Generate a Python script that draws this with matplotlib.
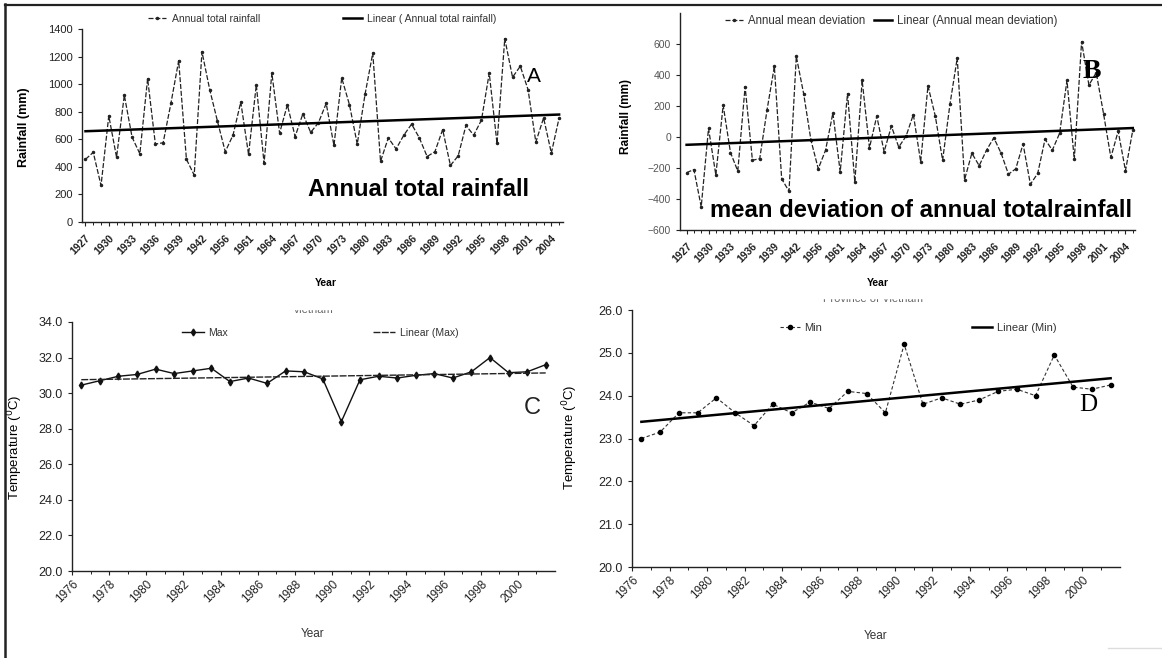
import matplotlib.pyplot as plt
import numpy as np
from matplotlib.lines import Line2D
from matplotlib.patches import Rectangle

plt.rcParams['font.family'] = ['Liberation Sans', 'DejaVu Sans']

W, H = 1162, 658

# ---- data ----
rain_total = [455, 505, 265, 770, 470, 920, 615, 495, 1040, 565,
              575, 860, 1170, 455, 340, 1235, 960, 730, 510, 630,
              870, 490, 995, 425, 1080, 645, 850, 620, 785, 650,
              720, 860, 555, 1045, 850, 565, 925, 1225, 440, 610,
              530, 630, 710, 610, 475, 510, 670, 410, 480, 700,
              630, 740, 1080, 570, 1330, 1050, 1130, 960, 580, 755,
              500, 755]
rain_dev = [-230, -210, -450, 55, -245, 205, -100, -220, 325, -150,
            -140, 175, 455, -270, -350, 520, 280, -20, -205, -85,
            155, -225, 280, -290, 365, -70, 135, -95, 70, -65,
            5, 145, -160, 330, 135, -150, 210, 510, -275, -105,
            -185, -85, -5, -105, -240, -205, -45, -305, -235, -15,
            -85, 25, 365, -145, 615, 335, 415, 150, -132, 38,
            -217, 45]
rain_labels = ['1927', '1930', '1933', '1936', '1939', '1942', '1956', '1961',
               '1964', '1967', '1970', '1973', '1980', '1983', '1986', '1989',
               '1992', '1995', '1998', '2001', '2004']

temp_years = list(range(1976, 2002))
temp_max = [30.45, 30.7, 30.95, 31.05, 31.35, 31.1, 31.25, 31.4, 30.65, 30.85,
            30.55, 31.25, 31.2, 30.8, 28.4, 30.75, 30.95, 30.85, 31.0, 31.1,
            30.85, 31.2, 32.0, 31.15, 31.2, 31.6]
temp_min = [23.0, 23.15, 23.6, 23.6, 23.95, 23.6, 23.3, 23.8, 23.6, 23.85,
            23.7, 24.1, 24.05, 23.6, 25.2, 23.8, 23.95, 23.8, 23.9, 24.1,
            24.15, 24.0, 24.95, 24.2, 24.15, 24.25]
temp_labels = [str(y) for y in temp_years[::2]]


def box(l, t, r, b):
    return [l / W, 1 - b / H, (r - l) / W, (b - t) / H]


def fx(x):
    return x / W


def fy(y):
    return 1 - y / H


def style(ax, size):
    for s in ('top', 'right'):
        ax.spines[s].set_visible(False)
    for s in ('left', 'bottom'):
        ax.spines[s].set_linewidth(1.0)
        ax.spines[s].set_color('#222')
    ax.tick_params(colors='#222', labelsize=size, length=3, width=0.8)
    ax.tick_params(which='minor', length=2.5, width=0.7, colors='#222')


fig = plt.figure(figsize=(W / 100, H / 100), dpi=100)

# ---------------- A : annual total rainfall ----------------
axA = fig.add_axes(box(82, 29, 563, 222))
idx = np.arange(len(rain_total))
axA.plot(idx, rain_total, color='#222', lw=0.9, ls=(0, (4, 1.5)),
         marker='.', ms=3, label='Annual total rainfall')
k, c = np.polyfit(idx, rain_total, 1)
axA.plot(idx, k * idx + c, color='black', lw=1.8,
         label='Linear ( Annual total rainfall)')
axA.set_xlim(-0.45, len(idx) - 0.5)
axA.set_ylim(0, 1400)
axA.set_yticks(range(0, 1401, 200))
axA.set_xticks(idx[::3])
axA.set_xticklabels(rain_labels, rotation=45, ha='right', va='top',
                    rotation_mode='anchor', fontweight='bold')
axA.set_xticks(idx, minor=True)
style(axA, 8)
axA.tick_params(axis='x', labelsize=7.5, pad=5)
axA.set_ylabel('Rainfall (mm)', fontsize=9, fontweight='bold')
axA.yaxis.set_label_coords(fx(30), fy(127), transform=fig.transFigure)
axA.set_xlabel('Year', fontsize=7.5, fontweight='bold')
axA.xaxis.set_label_coords(fx(326), fy(278), transform=fig.transFigure)
axA.legend(loc='center', bbox_to_anchor=(fx(322), fy(19)),
           bbox_transform=fig.transFigure, ncol=2, frameon=False,
           fontsize=7.5, handlelength=1.8, handletextpad=0.5,
           columnspacing=8, borderpad=0, labelcolor='#333')
fig.text(fx(419), fy(190), 'Annual total rainfall', ha='center', va='center',
         fontsize=17, fontweight='bold')
fig.text(fx(534), fy(76), 'A', ha='center', va='center', fontsize=15)

# ---------------- B : mean deviation ----------------
axB = fig.add_axes(box(680, 13, 1135, 230))
idxB = np.arange(len(rain_dev))
axB.plot(idxB, rain_dev, color='#222', lw=0.9, ls=(0, (4, 1.5)),
         marker='.', ms=3, label='Annual mean deviation')
k, c = np.polyfit(idxB, rain_dev, 1)
axB.plot(idxB, k * idxB + c, color='black', lw=1.8,
         label='Linear (Annual mean deviation)')
axB.set_xlim(-0.9, len(idxB) - 0.7)
axB.set_ylim(-600, 800)
axB.set_yticks(range(-600, 601, 200))
axB.set_xticks(idxB[::3])
axB.set_xticklabels(rain_labels, rotation=45, ha='right', va='top',
                    rotation_mode='anchor', fontweight='bold')
axB.set_xticks(idxB, minor=True)
style(axB, 7.5)
axB.tick_params(axis='y', labelcolor='#555')
axB.tick_params(axis='x', labelsize=7.5, pad=5)
axB.set_ylabel('Rainfall (mm)', fontsize=8.5, fontweight='bold')
axB.yaxis.set_label_coords(fx(632), fy(117), transform=fig.transFigure)
axB.set_xlabel('Year', fontsize=7.5, fontweight='bold')
axB.xaxis.set_label_coords(fx(878), fy(278), transform=fig.transFigure)
axB.legend(loc='center', bbox_to_anchor=(fx(891), fy(21)),
           bbox_transform=fig.transFigure, ncol=2, frameon=False,
           fontsize=8.3, handlelength=1.6, handletextpad=0.4,
           columnspacing=0.8, borderpad=0, labelcolor='#333')
fig.text(fx(921), fy(211), 'mean deviation of annual totalrainfall',
         ha='center', va='center', fontsize=17.2, fontweight='bold')
fig.text(fx(1092), fy(72), 'B', ha='center', va='center', fontsize=20,
         fontweight='bold', family='Liberation Serif')

# ---------------- C : max temperature ----------------
axC = fig.add_axes(box(72, 322, 555, 571))
x = np.arange(len(temp_years))
axC.plot(x, temp_max, color='#111', lw=1.0, marker='d', ms=3.5, label='Max')
k, c = np.polyfit(x, temp_max, 1)
axC.plot(x, k * x + c, color='#222', lw=1.0, ls=(0, (5, 1)),
         label='Linear (Max)')
axC.set_xlim(-0.5, len(x) - 0.5)
axC.set_ylim(20, 34)
axC.set_yticks(np.arange(20, 34.1, 2))
axC.yaxis.set_major_formatter('{x:.1f}')
axC.set_xticks(x[::2] - 0.5)
axC.set_xticklabels(temp_labels, rotation=45, ha='right', va='top',
                    rotation_mode='anchor')
axC.set_xticks(x - 0.5, minor=True)
style(axC, 9)
axC.tick_params(axis='x', labelsize=8.5, pad=2)
axC.set_ylabel('Temperature ($^{0}$C)', fontsize=9.5)
axC.yaxis.set_label_coords(fx(25), fy(447), transform=fig.transFigure)
axC.set_xlabel('Year', fontsize=8.5, color='#333')
axC.xaxis.set_label_coords(fx(313), fy(628), transform=fig.transFigure)
axC.legend(loc='center', bbox_to_anchor=(fx(320), fy(333)),
           bbox_transform=fig.transFigure, ncol=2, frameon=False,
           fontsize=7.5, handlelength=2.1, handletextpad=0.4,
           columnspacing=14, borderpad=0, labelcolor='#333')
fig.text(fx(532), fy(408), 'C', ha='center', va='center', fontsize=17,
         color='#222')
fig.text(fx(313), fy(310), 'Vietnam', ha='center', va='center', fontsize=8,
         color='#666')
fig.add_artist(Rectangle((fx(280), fy(309)), fx(70), 8 / H,
                         transform=fig.transFigure, color='white', zorder=5))

# ---------------- D : min temperature ----------------
axD = fig.add_axes(box(632, 310, 1120, 567))
axD.plot(x, temp_min, color='#333', lw=0.8, ls=(0, (3, 2)),
         marker='o', ms=3, mfc='black', mec='black', label='Min')
k, c = np.polyfit(x, temp_min, 1)
axD.plot(x, k * x + c, color='black', lw=1.8, label='Linear (Min)')
axD.set_xlim(-0.5, len(x) - 0.5)
axD.set_ylim(20, 26)
axD.set_yticks(np.arange(20, 26.1, 1))
axD.yaxis.set_major_formatter('{x:.1f}')
axD.set_xticks(x[::2] - 0.5)
axD.set_xticklabels(temp_labels, rotation=45, ha='right', va='top',
                    rotation_mode='anchor')
axD.set_xticks(x - 0.5, minor=True)
style(axD, 9)
axD.tick_params(axis='x', labelsize=8.5, pad=2)
axD.set_ylabel('Temperature ($^{0}$C)', fontsize=9.5)
axD.yaxis.set_label_coords(fx(580), fy(437), transform=fig.transFigure)
axD.set_xlabel('Year', fontsize=8.5, color='#333')
axD.xaxis.set_label_coords(fx(876), fy(630), transform=fig.transFigure)
axD.legend(loc='center', bbox_to_anchor=(fx(918), fy(328)),
           bbox_transform=fig.transFigure, ncol=2, frameon=False,
           fontsize=8, handlelength=1.8, handletextpad=0.4,
           columnspacing=13.5, borderpad=0, labelcolor='#333')
fig.text(fx(1088), fy(405), 'D', ha='center', va='center', fontsize=18,
         family='Liberation Serif')
fig.text(fx(873), fy(299), 'Province of Vietnam', ha='center', va='center',
         fontsize=8, color='#666')
fig.add_artist(Rectangle((fx(800), fy(298)), fx(150), 8 / H,
                         transform=fig.transFigure, color='white', zorder=5))

# scan frame
fig.add_artist(Line2D([fx(5), fx(5)], [0, fy(4)], color='#222', lw=1.8))
fig.add_artist(Line2D([fx(5), 1], [fy(5), fy(5)], color='#222', lw=1.6))
fig.add_artist(Line2D([fx(1108), 1], [fy(648), fy(648)], color='#ddd', lw=1))

fig.savefig('out.png', dpi=100)
